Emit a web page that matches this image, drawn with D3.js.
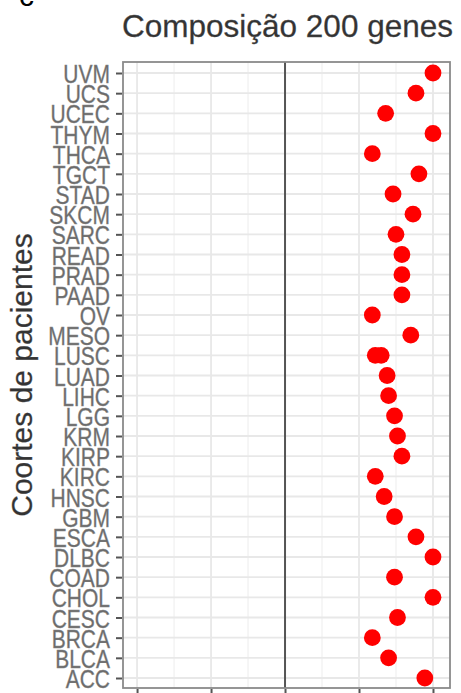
<!DOCTYPE html>
<html>
<head>
<meta charset="utf-8">
<script src="https://d3js.org/d3.v7.min.js"></script>
<style>
  html, body { margin: 0; padding: 0; background: #fff; }
  svg { display: block; font-family: "Liberation Sans", Arial, sans-serif; }
</style>
</head>
<body>
<div id="my_dataviz"></div>
<script>
// cohorts, top to bottom
var cohorts = ["UVM","UCS","UCEC","THYM","THCA","TGCT","STAD","SKCM","SARC","READ",
  "PRAD","PAAD","OV","MESO","LUSC","LUAD","LIHC","LGG","KRM","KIRP","KIRC","HNSC",
  "GBM","ESCA","DLBC","COAD","CHOL","CESC","BRCA","BLCA","ACC"]

// one point per cohort (LUSC has two)
var pointCohort = ["UVM","UCS","UCEC","THYM","THCA","TGCT","STAD","SKCM","SARC","READ",
  "PRAD","PAAD","OV","MESO","LUSC","LUSC","LUAD","LIHC","LGG","KRM","KIRP","KIRC","HNSC",
  "GBM","ESCA","DLBC","COAD","CHOL","CESC","BRCA","BLCA","ACC"]
var pointValue = [1.0, 0.885, 0.68, 1.0, 0.59, 0.905, 0.73, 0.865, 0.75, 0.79,
  0.79, 0.79, 0.59, 0.85, 0.61, 0.65, 0.69, 0.70, 0.74, 0.76, 0.79, 0.61, 0.67,
  0.74, 0.885, 1.0, 0.74, 1.0, 0.76, 0.59, 0.70, 0.945]

var xMajor = [-1, -0.5, 0, 0.5, 1]
var xMinor = [-0.75, -0.25, 0.25, 0.75]

var width = 461
    height = 693
    panel = {left: 123, right: 450, top: 62, bottom: 688}

var svg = d3.select("#my_dataviz")
  .append("svg")
    .attr("width", width)
    .attr("height", height)

var x = d3.scaleLinear()
  .domain([-1.095, 1.115])
  .range([panel.left, panel.right])

var y = d3.scalePoint()
  .domain(cohorts)
  .range([73, 678])

// panel grid
var grid = svg.append("g")
grid.selectAll("minorV")
  .data(xMinor)
  .enter()
  .append("line")
    .attr("x1", function(d){ return x(d) })
    .attr("x2", function(d){ return x(d) })
    .attr("y1", panel.top)
    .attr("y2", panel.bottom)
    .style("stroke", "#f0f0f0")
    .style("stroke-width", 1.2)
grid.selectAll("majorV")
  .data(xMajor)
  .enter()
  .append("line")
    .attr("x1", function(d){ return x(d) })
    .attr("x2", function(d){ return x(d) })
    .attr("y1", panel.top)
    .attr("y2", panel.bottom)
    .style("stroke", "#e8e8e8")
    .style("stroke-width", 1.8)
grid.selectAll("majorH")
  .data(cohorts)
  .enter()
  .append("line")
    .attr("x1", panel.left)
    .attr("x2", panel.right)
    .attr("y1", function(d){ return y(d) })
    .attr("y2", function(d){ return y(d) })
    .style("stroke", "#e8e8e8")
    .style("stroke-width", 1.8)

// reference line at 0
svg.append("line")
  .attr("x1", x(0))
  .attr("x2", x(0))
  .attr("y1", panel.top)
  .attr("y2", panel.bottom)
  .style("stroke", "#555")
  .style("stroke-width", 2)

// points
svg.selectAll("dots")
  .data(pointValue)
  .enter()
  .append("circle")
    .attr("cx", function(d){ return x(d) })
    .attr("cy", function(d, i){ return y(pointCohort[i]) })
    .attr("r", 8.4)
    .style("fill", "#ff0000")

// panel border
svg.append("rect")
  .attr("x", panel.left)
  .attr("y", panel.top)
  .attr("width", panel.right - panel.left)
  .attr("height", panel.bottom - panel.top)
  .style("fill", "none")
  .style("stroke", "#8a8a8a")
  .style("stroke-width", 1.8)

// y axis
var yAxis = svg.append("g")
  .attr("transform", "translate(" + (panel.left - 1) + ",0)")
  .call(d3.axisLeft(y).tickSize(6).tickPadding(5))
yAxis.select(".domain").remove()
yAxis.selectAll(".tick line")
  .style("stroke", "#555")
  .style("stroke-width", 2)
yAxis.selectAll(".tick text")
  .attr("x", null)
  .attr("dy", null)
  .attr("transform", "translate(-12,1) scale(0.84,1)")
  .style("dominant-baseline", "central")
  .style("font-size", "25px")
  .style("fill", "#6a6a6a")
  .style("stroke", "#8a8a8a")
  .style("stroke-width", 0.4)

// x axis (labels are cut off below the picture)
var xAxis = svg.append("g")
  .attr("transform", "translate(0," + (panel.bottom + 1) + ")")
  .call(d3.axisBottom(x).tickValues(xMajor).tickSize(6).tickFormat(""))
xAxis.select(".domain").remove()
xAxis.selectAll(".tick line")
  .style("stroke", "#555")
  .style("stroke-width", 2)

// titles
svg.append("text")
  .attr("x", (panel.left + panel.right) / 2 + 1)
  .attr("y", 37)
  .attr("text-anchor", "middle")
  .style("font-size", "31.5px")
  .style("fill", "#333")
  .style("stroke", "#555")
  .style("stroke-width", 0.3)
  .text("Composição 200 genes")

svg.append("text")
  .attr("transform", "translate(32,375) rotate(-90)")
  .attr("text-anchor", "middle")
  .style("font-size", "30px")
  .style("fill", "#333")
  .style("stroke", "#555")
  .style("stroke-width", 0.3)
  .text("Coortes de pacientes")

// panel letter, mostly cut off at the top
svg.append("text")
  .attr("x", 19)
  .attr("y", 6)
  .style("font-size", "30px")
  .style("fill", "#000")
  .text("c")
</script>
</body>
</html>
